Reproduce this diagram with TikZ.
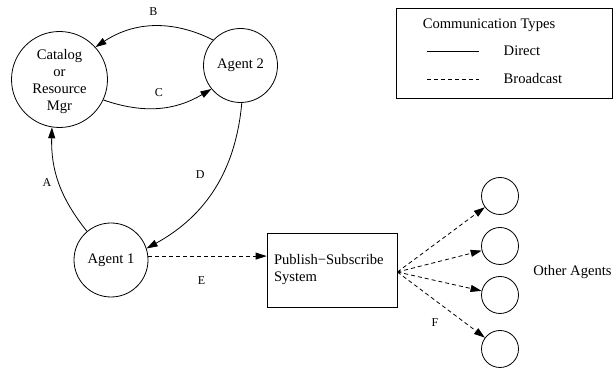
\documentclass[tikz,border=0pt]{standalone}
\usepackage{fontspec}
\setmainfont{Liberation Serif}
\usetikzlibrary{arrows.meta}
\begin{document}
\begin{tikzpicture}[x=1pt,y=1pt,line width=0.8pt,
  agent/.style={draw,circle,inner sep=0pt,align=center,font=\fontsize{14.6}{17}\selectfont},
  txt/.style={font=\fontsize{14.6}{17}\selectfont},
  lbl/.style={font=\fontsize{12}{14}\selectfont},
  msg/.style={-{Triangle[length=11pt,width=7pt]}},
  bcast/.style={msg,dash pattern=on 4pt off 3pt}]
\useasboundingbox (0,0) rectangle (613,371);
% agents
\node[agent,minimum size=96pt] (cat) at (59.5,291.5) {};
\node[txt,align=center] (cattxt) at (59.5,289) {Catalog\\or\\Resource\\Mgr};
\node[agent,minimum size=74pt] (a2) at (240.5,305.5) {Agent 2};
\node[agent,minimum size=74pt] (a1) at (111,111) {Agent 1};
\node[draw,txt,minimum width=130pt,minimum height=74pt,text width=116pt,inner sep=7pt,align=left] (pubsub) at (332,101) {Publish−Subscribe\\System};
\foreach \n/\y in {1/175,2/125,3/76,4/22}
  \node[agent,minimum size=37pt] (o\n) at (500,\y) {};
\node[txt,anchor=east,inner sep=0pt] (others) at (612,99) {Other Agents};
% direct messages
\draw[msg] (a2.137) to[bend right=30] node[lbl,above=7pt] {B} (cat.42);
\draw[msg] (cat.-25) to[bend right=25] node[lbl,above=8pt] {C} (a2.219);
\draw[msg] (a1.130) to[bend left=20] node[lbl,left=4pt] {A} (cat.261);
\draw[msg] (a2.-88) to[bend left=28] node[lbl,above left=6pt] {D} (a1.18);
% broadcast
\draw[bcast] (a1.6) -- node[lbl,below=17pt,pos=0.45] {E} (a1.6 -| pubsub.west);
\coordinate (fan) at (pubsub.east |- 0,99);
\foreach \n in {1,...,4}
  \draw[bcast] (fan) -- (o\n);
\node[lbl] (flbl) at (435,48) {F};
% legend
\node[draw,minimum width=216pt,minimum height=90pt] (legend) at (504,318) {};
\node[txt] (title) at (489,346) {Communication Types};
\coordinate (s1) at (427,320); \coordinate (s2) at (479,320);
\coordinate (d1) at (427,292); \coordinate (d2) at (479,292);
\draw (s1) -- (s2);
\draw[dash pattern=on 4pt off 3pt] (d1) -- (d2);
\node[txt,anchor=west] (direct) at (500,320) {Direct};
\node[txt,anchor=west] (broad) at (500,292) {Broadcast};
\end{tikzpicture}
\end{document}
